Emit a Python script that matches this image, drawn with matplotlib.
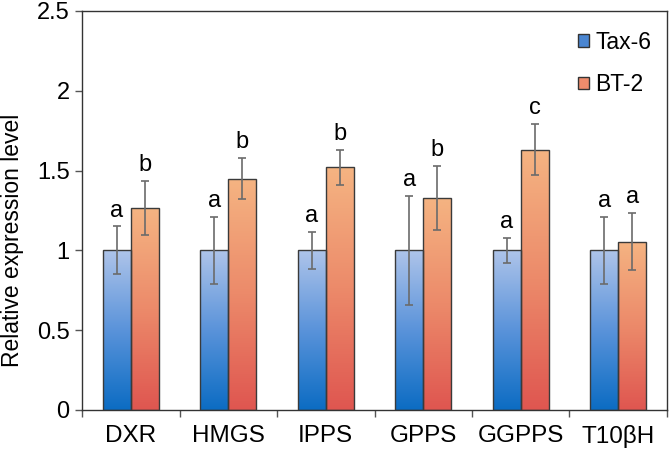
import numpy as np
import matplotlib.pyplot as plt
from matplotlib.colors import LinearSegmentedColormap
from matplotlib.patches import Patch

plt.rcParams['font.family'] = ['Liberation Sans', 'DejaVu Sans']

# --- DATA ---
genes = ["DXR", "HMGS", "IPPS", "GPPS", "GGPPS", "T10\u03b2H"]
tax6 = [1.0, 1.0, 1.0, 1.0, 1.0, 1.0]
tax6_err = [0.15, 0.21, 0.115, 0.34, 0.08, 0.21]
bt2 = [1.265, 1.45, 1.52, 1.33, 1.63, 1.055]
bt2_err = [0.17, 0.13, 0.11, 0.20, 0.16, 0.18]
tax6_sig = ["a", "a", "a", "a", "a", "a"]
bt2_sig = ["b", "b", "b", "b", "c", "a"]

# --- STYLE ---
blue_cmap = LinearSegmentedColormap.from_list("blue", ["#0b6cc3", "#5a93da", "#aec4ea"])
orange_cmap = LinearSegmentedColormap.from_list("orange", ["#df5650", "#ec8a6a", "#f5b482"])
bar_w = 0.287

fig = plt.figure(figsize=(6.69, 4.54), dpi=100)
ax = fig.add_axes([0.1226, 0.097, 0.8744, 0.879])

x = np.arange(len(genes))
grad = np.linspace(0, 1, 256).reshape(-1, 1)


def gradient_bars(xpos, heights, cmap):
    bars = ax.bar(xpos, heights, bar_w, facecolor="none", edgecolor="#3a3a3a",
                  linewidth=1.0, zorder=3)
    for b in bars:
        x0, y0 = b.get_x(), b.get_y()
        w, h = b.get_width(), b.get_height()
        im = ax.imshow(grad, extent=[x0, x0 + w, y0, y0 + h], origin="lower",
                       aspect="auto", cmap=cmap, zorder=2)
        im.set_clip_path(b)
    return bars


gradient_bars(x - bar_w / 2, tax6, blue_cmap)
gradient_bars(x + bar_w / 2, bt2, orange_cmap)

ax.errorbar(x - bar_w / 2, tax6, yerr=tax6_err, fmt="none", ecolor="#6b6b6b",
            elinewidth=1.2, capsize=2.7, capthick=1.2, zorder=4)
ax.errorbar(x + bar_w / 2, bt2, yerr=bt2_err, fmt="none", ecolor="#6b6b6b",
            elinewidth=1.2, capsize=2.7, capthick=1.2, zorder=4)

for i in range(len(genes)):
    ax.text(x[i] - bar_w / 2, tax6[i] + tax6_err[i] + 0.03, tax6_sig[i],
            ha="center", va="bottom", fontsize=17)
    ax.text(x[i] + bar_w / 2, bt2[i] + bt2_err[i] + 0.03, bt2_sig[i],
            ha="center", va="bottom", fontsize=17)

ax.set_xlim(-0.5, len(genes) - 0.5)
ax.set_ylim(0, 2.5)
ax.set_yticks([0, 0.5, 1, 1.5, 2, 2.5])
ax.set_yticklabels(["0", "0.5", "1", "1.5", "2", "2.5"])
ax.set_xticks(x)
ax.set_xticklabels(genes)
ax.set_xticks(np.arange(-0.5, len(genes), 1), minor=True)
ax.tick_params(axis="x", which="major", length=0, pad=11, labelsize=17.5)
ax.tick_params(axis="x", which="minor", length=5, direction="out", width=1, color="#555555")
ax.tick_params(axis="y", length=5, direction="out", width=1, labelsize=17, pad=4,
               color="#555555")
ax.set_ylabel("Relative expression level", fontsize=16.5)
ax.yaxis.set_label_coords(-0.1, 0.426)

for s in ax.spines.values():
    s.set_color("#333333")
    s.set_linewidth(1.0)

handles = [Patch(facecolor="#4a86d2", edgecolor="#333333", label="Tax-6"),
           Patch(facecolor="#ef8c6c", edgecolor="#333333", label="BT-2")]
ax.legend(handles=handles, loc="upper right", frameon=False, fontsize=16.5,
          handlelength=0.45, handleheight=0.45, handletextpad=0.3,
          labelspacing=0.85, borderaxespad=0.2, bbox_to_anchor=(0.997, 0.985))

fig.savefig("out.png", dpi=100)
